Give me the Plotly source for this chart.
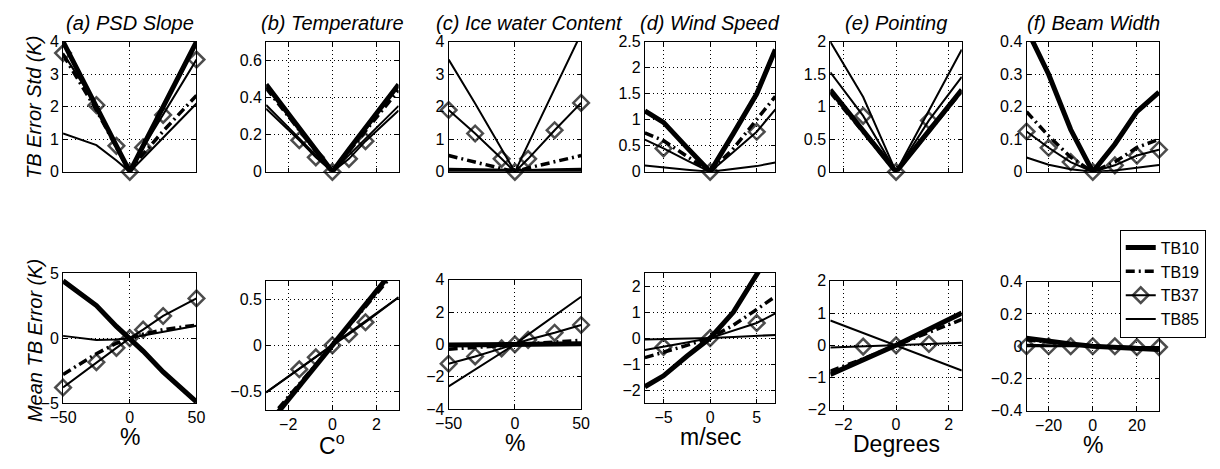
import plotly.graph_objects as go

W, H = 1220, 469
FONT = "Liberation Sans, Arial, Helvetica, sans-serif"

# ---------------- data ----------------
SERIES = ["TB10", "TB19", "TB37", "TB85"]
PANEL_TITLES = ["(a) PSD Slope", "(b) Temperature", "(c) Ice water Content",
                "(d) Wind Speed", "(e) Pointing", "(f) Beam Width"]
X_TITLES = ["%", "C<sup>o</sup>", "%", "m/sec", "Degrees", "%"]
Y_TITLE_TOP = "TB Error Std (K)"
Y_TITLE_BOTTOM = "Mean TB Error (K)"

# (a) PSD slope
A_X = [-50, -25, -10, 0, 10, 25, 50]
A_MARK = [1, 1, 1, 1, 1, 1, 1]
A_STD_TB10 = [4.0, 2.05, 0.8, 0, 0.8, 2.0, 4.0]
A_STD_TB19 = [3.6, 1.9, 0.75, 0, 0.55, 1.25, 2.35]
A_STD_TB37 = [3.65, 2.05, 0.8, 0, 0.75, 1.75, 3.45]
A_STD_TB85 = [1.18, 0.82, 0.35, 0, 0.42, 1.05, 2.1]
A_MEAN_TB10 = [4.4, 2.5, 0.9, 0, -1.0, -2.6, -4.9]
A_MEAN_TB19 = [-2.8, -1.2, -0.4, 0, 0.3, 0.65, 1.0]
A_MEAN_TB37 = [-3.8, -1.85, -0.75, 0, 0.65, 1.7, 3.05]
A_MEAN_TB85 = [0.17, -0.15, -0.1, 0, 0.2, 0.5, 0.95]

# (b) Temperature
B_X = [-3, -1.5, -0.75, 0, 0.75, 1.5, 3]
B_MARK = [0, 1, 1, 1, 1, 1, 0]
B_STD_TB10 = [0.47, 0.235, 0.12, 0, 0.12, 0.235, 0.47]
B_STD_TB19 = [0.45, 0.225, 0.11, 0, 0.11, 0.22, 0.44]
B_STD_TB37 = [0.34, 0.17, 0.078, 0, 0.07, 0.165, 0.33]
B_STD_TB85 = [0.36, 0.18, 0.09, 0, 0.09, 0.18, 0.355]
B_MEAN_TB10 = [-0.885, -0.44, -0.22, 0, 0.22, 0.44, 0.885]
B_MEAN_TB19 = [-0.84, -0.42, -0.21, 0, 0.21, 0.42, 0.84]
B_MEAN_TB37 = [-0.51, -0.26, -0.13, 0, 0.12, 0.25, 0.52]
B_MEAN_TB85 = [-0.51, -0.255, -0.125, 0, 0.13, 0.26, 0.52]

# (c) Ice water content
C_X = [-50, -30, -10, 0, 10, 30, 50]
C_MARK = [1, 1, 1, 1, 1, 1, 1]
C_STD_TB10 = [0.05, 0.03, 0.01, 0, 0.01, 0.03, 0.05]
C_STD_TB19 = [0.5, 0.3, 0.12, 0, 0.12, 0.3, 0.5]
C_STD_TB37 = [1.9, 1.18, 0.4, 0, 0.4, 1.28, 2.12]
C_STD_TB85 = [3.45, 2.1, 0.7, 0, 0.85, 2.55, 4.25]
C_MEAN_TB10 = [-0.04, -0.03, -0.01, 0, 0.01, 0.02, 0.03]
C_MEAN_TB19 = [-0.3, -0.2, -0.06, 0, 0.05, 0.15, 0.25]
C_MEAN_TB37 = [-1.2, -0.75, -0.25, 0, 0.28, 0.72, 1.2]
C_MEAN_TB85 = [-2.6, -1.55, -0.5, 0, 0.6, 1.75, 2.95]

# (d) Wind speed
D_X = [-7, -5, -2.5, 0, 2.5, 5, 7]
D_MARK = [0, 1, 0, 1, 0, 1, 0]
D_STD_TB10 = [1.17, 0.95, 0.47, 0, 0.74, 1.5, 2.35]
D_STD_TB19 = [0.75, 0.6, 0.3, 0, 0.45, 1.0, 1.45]
D_STD_TB37 = [0.62, 0.45, 0.22, 0, 0.38, 0.77, 1.2]
D_STD_TB85 = [0.12, 0.09, 0.04, 0, 0.05, 0.11, 0.18]
D_MEAN_TB10 = [-1.87, -1.45, -0.7, 0, 1.0, 2.45, 3.6]
D_MEAN_TB19 = [-0.75, -0.55, -0.28, 0, 0.5, 1.1, 1.6]
D_MEAN_TB37 = [-0.46, -0.34, -0.17, 0, 0.28, 0.58, 0.95]
D_MEAN_TB85 = [-0.05, -0.04, -0.02, 0, 0.04, 0.08, 0.12]

# (e) Pointing
E_X = [-2.5, -1.25, 0, 1.25, 2.5]
E_MARK = [0, 1, 1, 1, 0]
E_STD_TB10 = [1.26, 0.63, 0, 0.63, 1.26]
E_STD_TB19 = [1.22, 0.61, 0, 0.62, 1.24]
E_STD_TB37 = [1.53, 0.86, 0, 0.79, 1.46]
E_STD_TB85 = [2.0, 1.15, 0, 0.95, 1.88]
E_MEAN_TB10 = [-0.9, -0.45, 0, 0.5, 1.0]
E_MEAN_TB19 = [-0.8, -0.42, 0, 0.4, 0.8]
E_MEAN_TB37 = [-0.07, -0.04, 0, 0.04, 0.08]
E_MEAN_TB85 = [0.77, 0.38, 0, -0.39, -0.78]

# (f) Beam width
F_X = [-30, -20, -10, 0, 10, 20, 30]
F_MARK = [1, 1, 1, 1, 1, 1, 1]
F_STD_TB10 = [0.44, 0.3, 0.13, 0, 0.085, 0.185, 0.245]
F_STD_TB19 = [0.185, 0.11, 0.045, 0, 0.03, 0.075, 0.1]
F_STD_TB37 = [0.124, 0.074, 0.03, 0, 0.02, 0.05, 0.068]
F_STD_TB85 = [0.044, 0.022, 0.008, 0, 0.004, 0.012, 0.021]
F_MEAN_TB10 = [0.05, 0.03, 0.015, 0, -0.008, -0.015, -0.02]
F_MEAN_TB19 = [0.04, 0.025, 0.012, 0, -0.006, -0.012, -0.018]
F_MEAN_TB37 = [0.0, 0.0, 0.0, 0.0, 0.0, -0.005, -0.005]
F_MEAN_TB85 = [0.01, 0.006, 0.003, 0, -0.003, -0.005, -0.008]

# axis ranges / ticks
X_RANGES = [[-50, 50], [-3, 3], [-50, 50], [-7, 7], [-2.5, 2.5], [-30, 30]]
X_TICKS = [[-50, 0, 50], [-2, 0, 2], [-50, 0, 50], [-5, 0, 5], [-2, 0, 2], [-20, 0, 20]]
STD_RANGES = [[0, 4], [0, 0.7], [0, 4], [0, 2.5], [0, 2], [0, 0.4]]
STD_TICKS = [[0, 1, 2, 3, 4], [0, 0.2, 0.4, 0.6], [0, 1, 2, 3, 4],
             [0, 0.5, 1, 1.5, 2, 2.5], [0, 0.5, 1, 1.5, 2], [0, 0.1, 0.2, 0.3, 0.4]]
MEAN_RANGES = [[-5, 5], [-0.7, 0.7], [-4, 4], [-2.5, 2.5], [-2, 2], [-0.4, 0.4]]
MEAN_TICKS = [[-5, 0, 5], [-0.5, 0, 0.5], [-4, -2, 0, 2, 4],
              [-2, -1, 0, 1, 2], [-2, -1, 0, 1, 2], [-0.4, -0.2, 0, 0.2, 0.4]]

PANELS = [
    (A_X, A_MARK, [A_STD_TB10, A_STD_TB19, A_STD_TB37, A_STD_TB85],
     [A_MEAN_TB10, A_MEAN_TB19, A_MEAN_TB37, A_MEAN_TB85]),
    (B_X, B_MARK, [B_STD_TB10, B_STD_TB19, B_STD_TB37, B_STD_TB85],
     [B_MEAN_TB10, B_MEAN_TB19, B_MEAN_TB37, B_MEAN_TB85]),
    (C_X, C_MARK, [C_STD_TB10, C_STD_TB19, C_STD_TB37, C_STD_TB85],
     [C_MEAN_TB10, C_MEAN_TB19, C_MEAN_TB37, C_MEAN_TB85]),
    (D_X, D_MARK, [D_STD_TB10, D_STD_TB19, D_STD_TB37, D_STD_TB85],
     [D_MEAN_TB10, D_MEAN_TB19, D_MEAN_TB37, D_MEAN_TB85]),
    (E_X, E_MARK, [E_STD_TB10, E_STD_TB19, E_STD_TB37, E_STD_TB85],
     [E_MEAN_TB10, E_MEAN_TB19, E_MEAN_TB37, E_MEAN_TB85]),
    (F_X, F_MARK, [F_STD_TB10, F_STD_TB19, F_STD_TB37, F_STD_TB85],
     [F_MEAN_TB10, F_MEAN_TB19, F_MEAN_TB37, F_MEAN_TB85]),
]

# ---------------- layout geometry (pixels) ----------------
COL_X = [(50, 186), (257, 392), (443, 578), (643, 776), (832, 966), (1032, 1167)]
TOP_Y = [(35, 170)] * 6
BOT_Y = [(275, 410), (283, 417), (282, 416), (275, 410), (283, 417), (284, 418)]
TITLE_CX = [118, 325, 525, 709, 899, 1100]

STYLE = {
    "TB10": dict(mode="lines", line=dict(color="black", width=5)),
    "TB19": dict(mode="lines", line=dict(color="black", width=3.5, dash="9px,4px,2px,4px")),
    "TB37": dict(mode="lines+markers", line=dict(color="black", width=2)),
    "TB85": dict(mode="lines", line=dict(color="black", width=2)),
}
MARKER_SIZE = 12


def fmt(v):
    return ("%g" % v).replace("-", "\u2212")


def xdom(px):
    return [px[0] / W, px[1] / W]


def ydom(py):
    return [1 - py[1] / H, 1 - py[0] / H]


fig = go.Figure()
layout = dict(
    width=W, height=H, margin=dict(l=0, r=0, t=0, b=0),
    paper_bgcolor="white", plot_bgcolor="white",
    font=dict(family=FONT, size=16, color="black"),
    showlegend=True,
    legend=dict(x=1127 / W, y=1 - 230 / H, xanchor="left", yanchor="top",
                bgcolor="white", bordercolor="black", borderwidth=1,
                font=dict(family=FONT, size=16, color="black"),
                tracegroupgap=0, itemwidth=30),
)

annotations = []
axis_common = dict(showline=True, linecolor="black", linewidth=1, mirror="ticks",
                   ticks="inside", ticklen=4, tickcolor="black", showgrid=True,
                   gridcolor="black", gridwidth=1, griddash="1px,3px", zeroline=False,
                   tickfont=dict(family=FONT, size=16, color="black"))

for col, (xs, marks, std_vals, mean_vals) in enumerate(PANELS):
    for row in range(2):
        k = col * 2 + row + 1
        xa = "x" if k == 1 else "x%d" % k
        ya = "y" if k == 1 else "y%d" % k
        xkey = "xaxis" if k == 1 else "xaxis%d" % k
        ykey = "yaxis" if k == 1 else "yaxis%d" % k
        yrng = STD_RANGES[col] if row == 0 else MEAN_RANGES[col]
        yt = STD_TICKS[col] if row == 0 else MEAN_TICKS[col]
        ypx = TOP_Y[col] if row == 0 else BOT_Y[col]
        layout[xkey] = dict(axis_common, domain=xdom(COL_X[col]), range=X_RANGES[col],
                            anchor=ya, tickmode="array", tickvals=X_TICKS[col],
                            ticktext=[fmt(v) for v in X_TICKS[col]],
                            showticklabels=(row == 1))
        layout[ykey] = dict(axis_common, domain=ydom(ypx), range=yrng, anchor=xa,
                            tickmode="array", tickvals=yt, ticktext=[fmt(v) for v in yt])
        vals = std_vals if row == 0 else mean_vals
        for s, name in enumerate(SERIES):
            st = STYLE[name]
            tr = dict(x=xs, y=vals[s], name=name, xaxis=xa, yaxis=ya,
                      mode=st["mode"], line=st["line"],
                      showlegend=(k == 1), legendgroup=name, hoverinfo="skip")
            if name == "TB37":
                tr["marker"] = dict(symbol="diamond-open", color="black",
                                    size=[MARKER_SIZE if m else 0 for m in marks],
                                    line=dict(color="black", width=2.5))
                tr["cliponaxis"] = False
            fig.add_trace(go.Scatter(**tr))
        if row == 1:
            annotations.append(dict(text=X_TITLES[col], xref="paper", yref="paper",
                                    x=(COL_X[col][0] + COL_X[col][1]) / 2 / W,
                                    y=1 - (ypx[1] + 35) / H, xanchor="center", yanchor="middle",
                                    showarrow=False, font=dict(family=FONT, size=23, color="black")))
    annotations.append(dict(text="<i>%s</i>" % PANEL_TITLES[col], xref="paper", yref="paper",
                            x=TITLE_CX[col] / W, y=1 - 16 / H, xanchor="center", yanchor="middle",
                            showarrow=False, font=dict(family=FONT, size=20, color="black")))

annotations.append(dict(text="<i>%s</i>" % Y_TITLE_TOP, xref="paper", yref="paper",
                        x=21 / W, y=1 - 103 / H, xanchor="center", yanchor="middle",
                        textangle=-90, showarrow=False,
                        font=dict(family=FONT, size=20, color="black")))
annotations.append(dict(text="<i>%s</i>" % Y_TITLE_BOTTOM, xref="paper", yref="paper",
                        x=22 / W, y=1 - 345 / H, xanchor="center", yanchor="middle",
                        textangle=-90, showarrow=False,
                        font=dict(family=FONT, size=20, color="black")))
layout["annotations"] = annotations

fig.update_layout(**layout)
fig.write_html("out.html")
